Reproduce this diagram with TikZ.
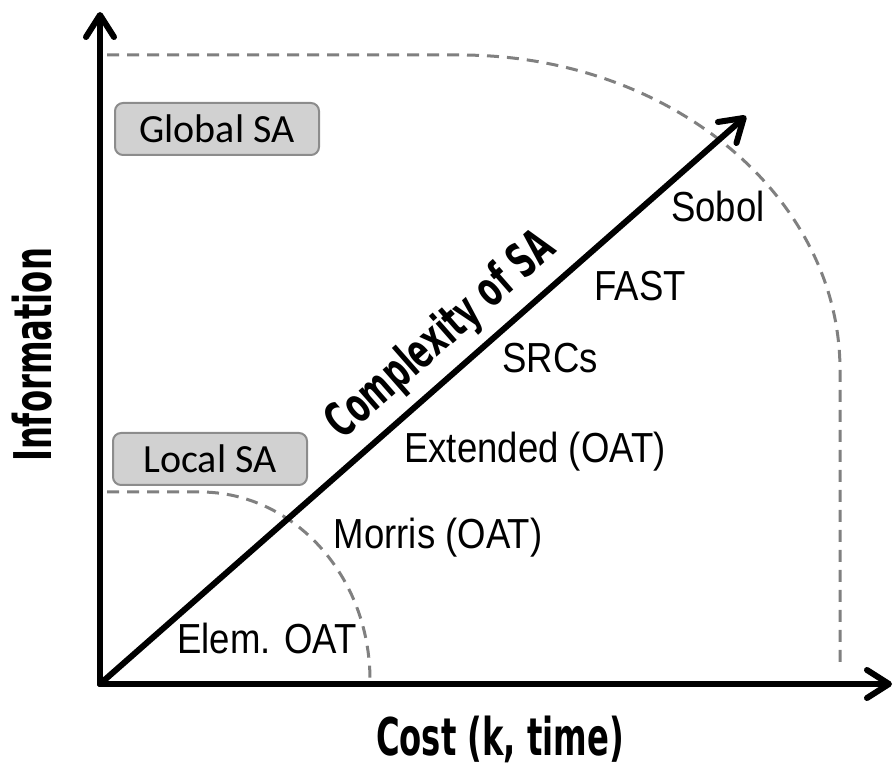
\documentclass[tikz,border=0pt]{standalone}
\usepackage{fontspec}
\setmainfont{Liberation Sans}
\newfontfamily\methodfont[FakeStretch=0.87]{Liberation Sans}
\newfontfamily\boxfont{Carlito}
\newfontfamily\titlefont[FakeStretch=0.62]{DejaVu Sans}
\usetikzlibrary{arrows.meta}

\tikzset{
  axis/.style={line width=3pt, line cap=round, line join=round,
    -{Straight Barb[length=11pt,width=14pt,round]}},
  border/.style={line width=1.5pt, black!50, dash pattern=on 6pt off 4pt},
  sabox/.style={draw=black!45, fill=black!18, line width=1pt, rounded corners=4pt,
    minimum height=26pt, inner sep=0pt, font=\boxfont\fontsize{20}{23}\selectfont},
  method/.style={anchor=base, inner sep=0pt, font=\methodfont\fontsize{21}{25}\selectfont},
  title/.style={inner sep=0pt, font=\titlefont\bfseries\fontsize{26}{30}\selectfont}
}

\begin{document}
\begin{tikzpicture}[x=0.5pt,y=-0.5pt]
        \useasboundingbox (0,0) rectangle (896,769);
        \coordinate (O) at (100,684);
        \coordinate (ytip) at (100,12);
        \coordinate (xtip) at (892,684);
        \coordinate (dtip) at (746,116);
        % dashed limits of local and global SA
        \draw[border] (107,55) -- (460,55)
            arc[start angle=90, end angle=0, x radius=190pt, y radius=157.5pt] -- (840,668);
        \draw[border] (107,492) -- (200,492)
            arc[start angle=90, end angle=0, x radius=85pt, y radius=94pt];
        % axes
        \draw[axis] (O) -- (ytip);
        \draw[axis] (O) -- (xtip);
        \draw[axis] (O) -- (dtip);
        \node[sabox, minimum width=102pt] (global) at (217,129) {Global SA};
        \node[sabox, minimum width=97pt] (local) at (210,459) {Local SA};
        \foreach \x/\y/\n/\t in {718/222/sobol/Sobol, 640/301/fast/FAST, 550/373/srcs/SRCs,
                                 535/463/ext/Extended (OAT), 438/549/morris/Morris (OAT),
                                 267/654/elem/Elem. OAT} {
            \node[method] (\n) at (\x,\y) {\t};
        }
        \node[title, rotate=41.3, font=\titlefont\bfseries\fontsize{24}{28}\selectfont]
            (cplx) at (442,336) {Complexity of SA};
        \node[title, rotate=90, anchor=base] (info) at (52,355) {Information};
        \node[title, anchor=base] (cost) at (500,756) {Cost (k, time)};
\end{tikzpicture}
\end{document}
